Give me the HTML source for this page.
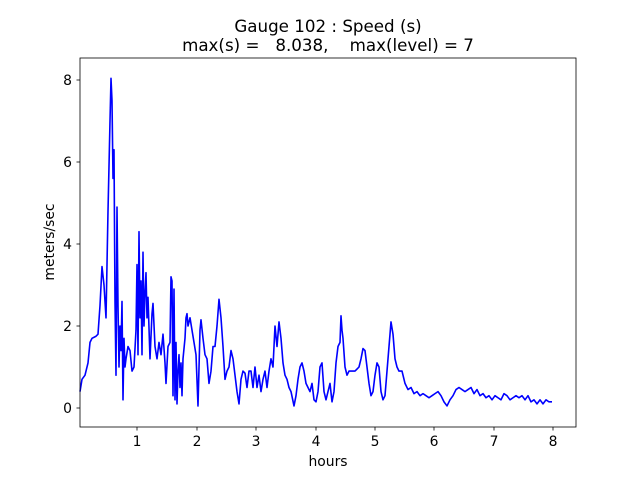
<!DOCTYPE html>
<html><head><meta charset="utf-8"><style>
body{margin:0;background:#fff;}
svg{display:block;font-family:"DejaVu Sans","Liberation Sans",sans-serif;}
</style></head><body>
<svg width="640" height="480" viewBox="0 0 640 480">
<rect width="640" height="480" fill="#fff"/>
<g transform="translate(0,408) scale(1,-41)">
<polyline fill="none" stroke="#0000ff" stroke-width="1.6" vector-effect="non-scaling-stroke" stroke-linejoin="round" points="
80,0.4 82,0.7 85,0.8 88,1.1 90,1.6 92,1.7 96,1.75 98,1.8 100,2.5 102,3.45 104,3.0 106,2.2 108,4.8 110,7.0 111,8.04 112,7.5 113,5.6 114,6.3 115,2.6 116,0.8 117,4.9 118,2.5 119,1.0 120,2.0 121,1.4 122,2.6 123,0.2 124,1.7 125,1.0 126,1.2 128,1.5 130,1.4 132,0.9 134,1.0 136,1.9 137,3.5 138,1.3 139,4.3 140,2.2 141,3.1 142,1.3 143,3.8 144,2.0 145,2.8 146,3.3 147,2.2 148,2.7 150,1.2 152,2.3 153,2.55 155,1.5 157,1.2 159,1.6 161,1.3 163,1.8 165,1.1 166,0.6 168,1.5 170,1.6 171,3.2 172,3.1 173,0.3 174,2.9 175,0.2 176,1.6 177,0.1 178,0.9 179,1.3 180,0.5 181,1.1 182,0.3 183,1.2 185,1.7 186,2.2 187,2.3 188,2.0 190,2.2 192,1.9 194,1.6 196,1.3 198,0.05 200,1.9 201,2.15 203,1.7 205,1.3 207,1.2 209,0.6 211,0.9 213,1.5 215,1.5 217,2.0 219,2.65 221,2.2 223,1.5 225,0.7 227,0.9 229,1.0 231,1.4 233,1.2 235,0.8 237,0.4 239,0.1 241,0.7 243,0.9 245,0.85 247,0.5 249,0.9 251,0.9 253,0.5 255,1.0 257,0.5 259,0.8 261,0.4 263,0.7 265,0.9 267,0.5 269,0.9 271,1.2 273,1.0 275,2.0 277,1.5 279,2.1 281,1.7 283,1.1 285,0.8 287,0.7 289,0.5 291,0.4 294,0.05 296,0.3 298,0.7 300,1.0 302,1.1 304,0.9 306,0.6 308,0.5 310,0.4 312,0.6 314,0.2 316,0.15 318,0.4 320,1.0 322,1.1 324,0.4 326,0.2 328,0.4 330,0.6 332,0.15 334,0.4 336,1.1 338,1.5 340,1.6 341,2.25 342,1.9 343,1.7 345,1.0 347,0.8 349,0.9 351,0.9 353,0.9 355,0.9 357,0.95 359,1.0 361,1.2 363,1.45 365,1.4 367,1.0 369,0.6 371,0.3 373,0.4 375,0.8 377,1.1 379,1.0 381,0.4 383,0.2 385,0.3 387,0.9 389,1.5 391,2.1 393,1.8 395,1.2 397,1.0 399,0.9 402,0.9 405,0.6 408,0.45 411,0.5 414,0.35 417,0.4 420,0.3 423,0.35 426,0.3 429,0.25 432,0.3 435,0.35 438,0.4 441,0.3 444,0.15 447,0.05 450,0.2 453,0.3 456,0.45 459,0.5 462,0.45 465,0.4 468,0.45 471,0.5 474,0.35 477,0.45 480,0.3 483,0.35 486,0.25 489,0.3 492,0.2 495,0.3 498,0.25 501,0.2 504,0.35 507,0.3 510,0.2 513,0.25 516,0.3 519,0.25 522,0.3 525,0.2 528,0.3 531,0.15 534,0.2 537,0.1 540,0.2 543,0.1 546,0.2 549,0.15 552,0.15"/>
</g>
<rect x="80" y="58" width="496" height="369" fill="none" stroke="#000" stroke-width="0.8"/>
<g stroke="#000" stroke-width="0.8">
<line x1="137" y1="427" x2="137" y2="430.5"/><line x1="197" y1="427" x2="197" y2="430.5"/>
<line x1="256" y1="427" x2="256" y2="430.5"/><line x1="316" y1="427" x2="316" y2="430.5"/>
<line x1="375" y1="427" x2="375" y2="430.5"/><line x1="434" y1="427" x2="434" y2="430.5"/>
<line x1="494" y1="427" x2="494" y2="430.5"/><line x1="553" y1="427" x2="553" y2="430.5"/>
<line x1="76.5" y1="408" x2="80" y2="408"/><line x1="76.5" y1="326" x2="80" y2="326"/>
<line x1="76.5" y1="244" x2="80" y2="244"/><line x1="76.5" y1="162" x2="80" y2="162"/>
<line x1="76.5" y1="80" x2="80" y2="80"/>
</g>
<g font-size="13.9" text-anchor="middle" fill="#000">
<text x="137" y="446">1</text><text x="197" y="446">2</text><text x="256" y="446">3</text><text x="316" y="446">4</text>
<text x="375" y="446">5</text><text x="434" y="446">6</text><text x="494" y="446">7</text><text x="553" y="446">8</text>
</g>
<g font-size="13.9" text-anchor="end" fill="#000">
<text x="72" y="413">0</text><text x="72" y="331">2</text><text x="72" y="249">4</text><text x="72" y="167">6</text><text x="72" y="85">8</text>
</g>
<text x="328" y="466" font-size="13.9" text-anchor="middle">hours</text>
<text x="0" y="0" font-size="13.9" text-anchor="middle" transform="translate(54,242) rotate(-90)">meters/sec</text>
<text x="328" y="32" font-size="16.7" text-anchor="middle">Gauge 102 : Speed (s)</text>
<text x="328" y="51" font-size="16.7" text-anchor="middle" xml:space="preserve">max(s) =   8.038,    max(level) = 7</text>
</svg>
</body></html>
